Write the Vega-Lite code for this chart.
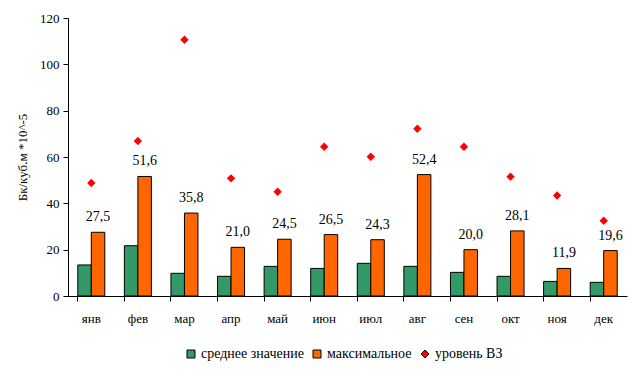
{
  "$schema": "https://vega.github.io/schema/vega-lite/v6.json",
  "width": 559,
  "height": 278,
  "autosize": {"type": "none"},
  "padding": {"left": 68, "top": 18, "right": 15, "bottom": 81},
  "background": "white",
  "data": {
    "values": [
      {"month": "янв", "series": "среднее значение", "value": 13.4},
      {"month": "фев", "series": "среднее значение", "value": 21.7},
      {"month": "мар", "series": "среднее значение", "value": 9.8},
      {"month": "апр", "series": "среднее значение", "value": 8.5},
      {"month": "май", "series": "среднее значение", "value": 12.8},
      {"month": "июн", "series": "среднее значение", "value": 11.9},
      {"month": "июл", "series": "среднее значение", "value": 14.1},
      {"month": "авг", "series": "среднее значение", "value": 12.8},
      {"month": "сен", "series": "среднее значение", "value": 10.2},
      {"month": "окт", "series": "среднее значение", "value": 8.5},
      {"month": "ноя", "series": "среднее значение", "value": 6.3},
      {"month": "дек", "series": "среднее значение", "value": 5.9},
      {"month": "янв", "series": "максимальное", "value": 27.5},
      {"month": "фев", "series": "максимальное", "value": 51.6},
      {"month": "мар", "series": "максимальное", "value": 35.8},
      {"month": "апр", "series": "максимальное", "value": 21.0},
      {"month": "май", "series": "максимальное", "value": 24.5},
      {"month": "июн", "series": "максимальное", "value": 26.5},
      {"month": "июл", "series": "максимальное", "value": 24.3},
      {"month": "авг", "series": "максимальное", "value": 52.4},
      {"month": "сен", "series": "максимальное", "value": 20.0},
      {"month": "окт", "series": "максимальное", "value": 28.1},
      {"month": "ноя", "series": "максимальное", "value": 11.9},
      {"month": "дек", "series": "максимальное", "value": 19.6},
      {"month": "янв", "series": "уровень ВЗ", "value": 48.8},
      {"month": "фев", "series": "уровень ВЗ", "value": 66.9},
      {"month": "мар", "series": "уровень ВЗ", "value": 110.6},
      {"month": "апр", "series": "уровень ВЗ", "value": 50.8},
      {"month": "май", "series": "уровень ВЗ", "value": 45.0},
      {"month": "июн", "series": "уровень ВЗ", "value": 64.4},
      {"month": "июл", "series": "уровень ВЗ", "value": 60.1},
      {"month": "авг", "series": "уровень ВЗ", "value": 72.2},
      {"month": "сен", "series": "уровень ВЗ", "value": 64.4},
      {"month": "окт", "series": "уровень ВЗ", "value": 51.5},
      {"month": "ноя", "series": "уровень ВЗ", "value": 43.4},
      {"month": "дек", "series": "уровень ВЗ", "value": 32.5}
    ]
  },
  "encoding": {
    "x": {
      "field": "month",
      "type": "nominal",
      "sort": ["янв", "фев", "мар", "апр", "май", "июн", "июл", "авг", "сен", "окт", "ноя", "дек"],
      "scale": {"paddingInner": 0.42, "paddingOuter": 0.21},
      "axis": {
        "title": null,
        "labelAngle": 0,
        "bandPosition": 0,
        "tickSize": 5,
        "labelPadding": 11
      }
    },
    "y": {
      "field": "value",
      "type": "quantitative",
      "scale": {"domain": [0, 120], "nice": false},
      "axis": {
        "title": "Бк/куб.м *10^-5",
        "values": [0, 20, 40, 60, 80, 100, 120],
        "grid": false,
        "tickSize": 5,
        "labelPadding": 4,
        "titlePadding": 10
      }
    },
    "color": {
      "field": "series",
      "type": "nominal",
      "scale": {"domain": ["среднее значение", "максимальное", "уровень ВЗ"], "range": ["#339966", "#FF6600", "#FF0000"]},
      "legend": {
        "title": null,
        "orient": "none",
        "direction": "horizontal",
        "legendX": 116,
        "legendY": 329,
        "labelFont": "Times New Roman, Liberation Serif, serif",
        "labelFontSize": 14,
        "labelColor": "black",
        "symbolSize": 64,
        "symbolStrokeWidth": 1,
        "columnPadding": 6,
        "labelOffset": 3,
        "encode": {
          "symbols": {
            "update": {
              "stroke": {"signal": "datum.value === 'уровень ВЗ' ? '#FF0000' : 'black'"},
              "size": {"signal": "datum.value === 'уровень ВЗ' ? 40 : 64"}
            }
          }
        }
      }
    }
  },
  "layer": [
    {
      "transform": [{"filter": "datum.series !== 'уровень ВЗ'"}],
      "mark": {"type": "bar", "stroke": "black", "strokeWidth": 1},
      "encoding": {
        "xOffset": {"field": "series", "type": "nominal", "scale": {"domain": ["среднее значение", "максимальное"], "paddingInner": 0, "paddingOuter": 0}}
      }
    },
    {
      "transform": [{"filter": "datum.series === 'максимальное'"}],
      "mark": {"type": "text", "baseline": "bottom", "dy": -8, "font": "Times New Roman, Liberation Serif, serif", "fontSize": 14},
      "encoding": {
        "xOffset": {"field": "series", "type": "nominal"},
        "color": {"value": "black"},
        "text": {"field": "value", "type": "quantitative", "format": ".1f"}
      }
    },
    {
      "transform": [{"filter": "datum.series === 'уровень ВЗ'"}],
      "mark": {"type": "point", "filled": true, "size": 70, "opacity": 1},
      "encoding": {
        "shape": {
          "field": "series",
          "type": "nominal",
          "scale": {"domain": ["среднее значение", "максимальное", "уровень ВЗ"], "range": ["square", "square", "diamond"]}
        }
      }
    }
  ],
  "config": {
    "locale": {
      "number": {"decimal": ",", "thousands": " ", "grouping": [3], "currency": ["", ""]}
    },
    "view": {"stroke": null},
    "legend": {
      "labelFont": "Times New Roman, Liberation Serif, serif",
      "labelFontSize": 14,
      "labelColor": "black"
    },
    "axis": {
      "labelFont": "Times New Roman, Liberation Serif, serif",
      "labelFontSize": 13,
      "labelColor": "black",
      "titleFont": "Times New Roman, Liberation Serif, serif",
      "titleFontSize": 13,
      "titleFontWeight": "normal",
      "titleColor": "black",
      "domainColor": "black",
      "tickColor": "black",
      "domainWidth": 1,
      "tickWidth": 1
    }
  }
}
